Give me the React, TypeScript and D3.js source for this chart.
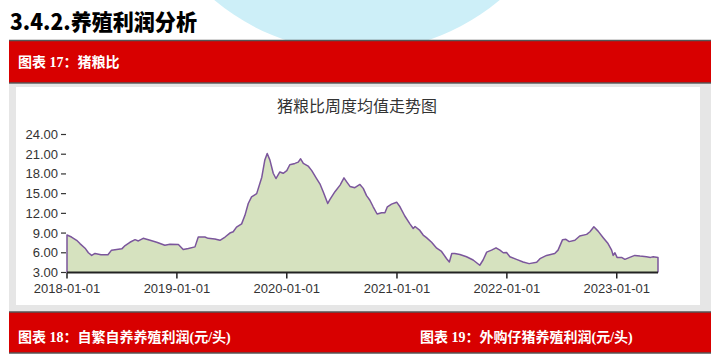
import { useMemo } from 'react';
import * as d3 from 'd3';

// weekly hog/grain price ratio, sampled off the chart
const dates = [
  '2018-01-01', '2018-01-16', '2018-02-02', '2018-02-13', '2018-03-02', '2018-03-13', '2018-03-24', '2018-04-04',
  '2018-04-24', '2018-05-17', '2018-05-29', '2018-07-02', '2018-07-13', '2018-07-29', '2018-08-15', '2018-08-26',
  '2018-09-11', '2018-10-04', '2018-10-26', '2018-11-22', '2018-12-09', '2019-01-06', '2019-01-22', '2019-02-08',
  '2019-03-02', '2019-03-13', '2019-04-04', '2019-04-15', '2019-05-07', '2019-05-24', '2019-06-10', '2019-06-26',
  '2019-07-07', '2019-07-18', '2019-08-04', '2019-08-15', '2019-08-26', '2019-09-06', '2019-09-23', '2019-10-10',
  '2019-10-20', '2019-10-28', '2019-11-06', '2019-11-17', '2019-11-26', '2019-12-09', '2019-12-20', '2020-01-01',
  '2020-01-11', '2020-01-28', '2020-02-08', '2020-02-16', '2020-02-25', '2020-03-12', '2020-03-24', '2020-04-09',
  '2020-04-20', '2020-05-01', '2020-05-16', '2020-05-23', '2020-06-09', '2020-06-26', '2020-07-09', '2020-07-18',
  '2020-07-29', '2020-08-14', '2020-08-31', '2020-09-11', '2020-09-22', '2020-10-03', '2020-10-14', '2020-10-27',
  '2020-11-11', '2020-11-22', '2020-11-30', '2020-12-14', '2020-12-31', '2021-01-11', '2021-01-27', '2021-02-13',
  '2021-02-24', '2021-03-02', '2021-03-18', '2021-03-29', '2021-04-09', '2021-04-26', '2021-05-13', '2021-05-29',
  '2021-06-15', '2021-06-24', '2021-07-02', '2021-07-12', '2021-07-29', '2021-08-20', '2021-09-11', '2021-10-03',
  '2021-10-14', '2021-10-26', '2021-11-11', '2021-11-26', '2021-12-09', '2021-12-20', '2021-12-31', '2022-01-11',
  '2022-02-02', '2022-02-24', '2022-03-16', '2022-04-10', '2022-04-21', '2022-05-13', '2022-06-09', '2022-06-20',
  '2022-07-05', '2022-07-16', '2022-07-27', '2022-08-15', '2022-08-31', '2022-09-23', '2022-10-04', '2022-10-17',
  '2022-10-31', '2022-11-17', '2022-12-03', '2022-12-15', '2022-12-20', '2022-12-26', '2023-01-02', '2023-01-17',
  '2023-01-28', '2023-02-13', '2023-03-02', '2023-03-19', '2023-04-10', '2023-04-23', '2023-05-02', '2023-05-18',
];

const ratios = [
  8.7, 8.4, 7.9, 7.4, 6.7, 6.0, 5.6, 5.9,
  5.7, 5.7, 6.4, 6.6, 7.1, 7.6, 8.0, 7.8,
  8.2, 7.9, 7.6, 7.15, 7.3, 7.25, 6.5, 6.65,
  6.9, 8.4, 8.4, 8.2, 8.1, 7.9, 8.4, 9.0,
  9.2, 9.9, 10.4, 11.7, 13.5, 14.5, 15.0, 17.5,
  20.1, 21.1, 20.1, 18.1, 17.3, 18.3, 18.1, 18.5,
  19.4, 19.6, 19.8, 20.3, 19.6, 19.2, 18.5, 17.3,
  16.5, 15.3, 13.5, 14.1, 15.3, 16.3, 17.4, 16.8,
  16.1, 15.9, 16.4, 15.8, 14.7, 14.0, 13.0, 11.9,
  12.1, 12.1, 13.0, 13.4, 13.7, 13.0, 11.6, 10.4,
  9.7, 10.0, 9.4, 8.7, 8.3, 7.6, 6.7, 6.2,
  5.1, 4.6, 5.9, 5.9, 5.75, 5.4, 4.9, 4.1,
  4.9, 6.1, 6.4, 6.75, 6.4, 6.0, 6.05, 5.4,
  5.0, 4.6, 4.35, 4.55, 5.1, 5.6, 5.9, 6.4,
  8.0, 8.05, 7.7, 7.9, 8.55, 8.8, 9.2, 9.95,
  9.3, 8.3, 7.4, 6.4, 5.6, 6.0, 5.3, 5.3,
  5.0, 5.3, 5.6, 5.5, 5.4, 5.3, 5.4, 5.3,
];

const yTicks = [3, 6, 9, 12, 15, 18, 21, 24];
const xTickLabels = ['2018-01-01', '2019-01-01', '2020-01-01', '2021-01-01', '2022-01-01', '2023-01-01'];

const W = 711;
const H = 359;
const plot = { left: 67, right: 658, top: 134.5, bottom: 272.5 };

const parse = d3.timeParse('%Y-%m-%d');
const axisFont = '"Liberation Sans", Arial, sans-serif';
const cjkSans = '"Noto Sans CJK SC", sans-serif';
const barFont = '"Liberation Serif", "Noto Sans CJK SC", serif';

export default function App() {
  const pts = useMemo(() => dates.map((d, i) => ({ date: parse(d) as Date, v: ratios[i] })), []);

  const x = d3
    .scaleTime()
    .domain([pts[0].date, pts[pts.length - 1].date])
    .range([plot.left, plot.right]);
  const y = d3.scaleLinear().domain([3, 24]).range([plot.bottom, plot.top]);

  const area = d3
    .area<{ date: Date; v: number }>()
    .x((d) => x(d.date))
    .y0(y(3))
    .y1((d) => y(d.v))(pts) ?? '';

  // outline drops to the baseline at both ends, like the original
  const edged = [{ date: pts[0].date, v: 3 }, ...pts, { date: pts[pts.length - 1].date, v: 3 }];
  const outline = d3
    .line<{ date: Date; v: number }>()
    .x((d) => x(d.date))
    .y((d) => y(d.v))(edged) ?? '';

  return (
    <svg
      width={W}
      height={H}
      viewBox={`0 0 ${W} ${H}`}
      style={{ position: 'absolute', left: 0, top: 0, background: '#fff' }}
    >
      <circle cx={357} cy={-170} r={222} fill="#cdeff8" />

      <text
        x={10}
        y={30}
        fontFamily={cjkSans}
        fontWeight={900}
        fontSize={22}
        fill="#000"
        textLength={187}
        lengthAdjust="spacingAndGlyphs"
      >
        3.4.2.养殖利润分析
      </text>

      {/* header bar */}
      <rect x={9} y={40} width={W - 9} height={43} fill="#d80000" />
      <line x1={9} x2={W} y1={40.5} y2={40.5} stroke="#555" strokeWidth={1.5} />
      <line x1={9} x2={W} y1={83} y2={83} stroke="#555" strokeWidth={1.5} />
      <text x={18} y={67} fontFamily={barFont} fontWeight="bold" fontSize={14} fill="#fff">
        图表 17：猪粮比
      </text>

      {/* chart frame */}
      <rect x={9} y={84} width={W - 9} height={228} fill="#e6e6e6" />
      <rect x={16} y={87} width={684} height={218} fill="#fff" />

      <text x={357} y={112} textAnchor="middle" fontFamily={cjkSans} fontSize={16} fill="#333">
        猪粮比周度均值走势图
      </text>

      <path d={area} fill="#d6e2bf" />
      <path d={outline} fill="none" stroke="#7b569c" strokeWidth={1.5} strokeLinejoin="round" />

      {/* y axis */}
      <g fontFamily={axisFont} fontSize={13} fill="#333">
        {yTicks.map((t) => (
          <g key={t} transform={`translate(0,${y(t)})`}>
            <line x1={plot.left - 6} x2={plot.left - 1} stroke="#333" strokeWidth={1.2} />
            <text x={plot.left - 9} dy="0.35em" textAnchor="end">
              {t.toFixed(2)}
            </text>
          </g>
        ))}
      </g>

      {/* x axis */}
      <line x1={plot.left} x2={plot.right} y1={y(3)} y2={y(3)} stroke="#222" strokeWidth={2} />
      <g fontFamily={axisFont} fontSize={13} fill="#333">
        {xTickLabels.map((t) => {
          const px = x(parse(t) as Date);
          return (
            <g key={t} transform={`translate(${px},${y(3)})`}>
              <line y1={0} y2={6} stroke="#222" strokeWidth={1.5} />
              <text y={20} textAnchor="middle">
                {t}
              </text>
            </g>
          );
        })}
      </g>

      {/* next section bar */}
      <rect x={9} y={312} width={W - 9} height={41} fill="#d80000" />
      <line x1={9} x2={W} y1={312} y2={312} stroke="#555" strokeWidth={1.5} />
      <line x1={9} x2={W} y1={353} y2={353} stroke="#555" strokeWidth={1.5} />
      <text x={18} y={342} fontFamily={barFont} fontWeight="bold" fontSize={14} fill="#fff">
        图表 18：自繁自养养殖利润(元/头)
      </text>
      <text x={420} y={342} fontFamily={barFont} fontWeight="bold" fontSize={14} fill="#fff">
        图表 19：外购仔猪养殖利润(元/头)
      </text>
    </svg>
  );
}
